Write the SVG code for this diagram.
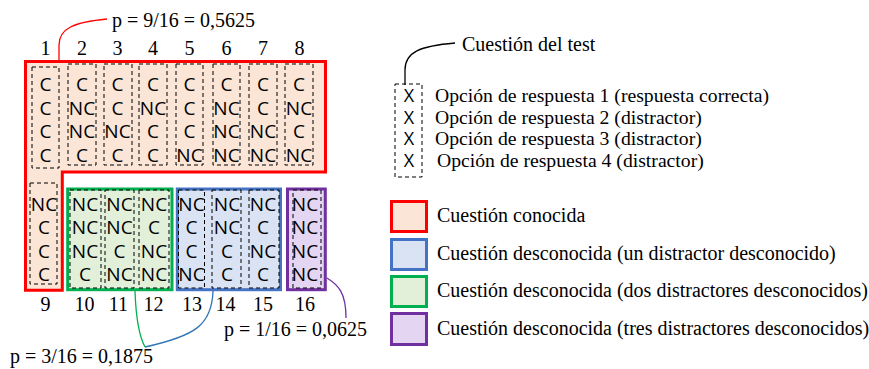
<svg xmlns="http://www.w3.org/2000/svg" width="869" height="369" viewBox="0 0 869 369">
  <style>
    .serif { font-family: "Liberation Serif", "Times New Roman", serif; font-size: 20px; fill: #000; }
    .num { font-family: "Liberation Serif", "Times New Roman", serif; font-size: 20px; fill: #000; text-anchor: middle; }
    .cell { font-family: "Open Sans", "Liberation Sans", sans-serif; font-size: 19px; fill: #000; text-anchor: middle; }
    .dash { fill: none; stroke: #000; stroke-width: 1; stroke-dasharray: 4 3; }
    .known { fill: #FBE5D6; stroke: #FF0000; stroke-width: 3; }
    .one { fill: #DAE3F3; stroke: #4472C4; stroke-width: 3; }
    .two { fill: #E2F0D9; stroke: #00B050; stroke-width: 3; }
    .three { fill: #E4D5F3; stroke: #7030A0; stroke-width: 3; }
    .lead { fill: none; stroke-width: 1.3; }
  </style>

  <!-- Group outlines -->
  <g id="grupo-conocida">
    <path class="known" d="M25.5,61.5 H325.5 V172 H62.3 V290.3 H25.5 Z"/>
  </g>
  <g id="grupo-dos">
    <rect class="two" x="67.7" y="189" width="104.3" height="100.7"/>
  </g>
  <g id="grupo-uno">
    <rect class="one" x="177.3" y="189" width="103.2" height="100.7"/>
  </g>
  <g id="grupo-tres">
    <rect class="three" x="287.5" y="189" width="37.8" height="100.7"/>
  </g>

  <!-- Question columns, first row -->
  <g id="q1">
    <rect class="dash" x="32" y="67" width="27" height="101"/>
    <text class="num" x="45.5" y="55">1</text>
    <text class="cell" x="45.5" y="90.5">C</text><text class="cell" x="45.5" y="114.5">C</text><text class="cell" x="45.5" y="138">C</text><text class="cell" x="45.5" y="161.5">C</text>
  </g>
  <g id="q2">
    <rect class="dash" x="68" y="64" width="28" height="101"/>
    <text class="num" x="82" y="55">2</text>
    <text class="cell" x="82" y="90.5">C</text><text class="cell" x="82" y="114.5">NC</text><text class="cell" x="82" y="138">NC</text><text class="cell" x="82" y="161.5">C</text>
  </g>
  <g id="q3">
    <rect class="dash" x="104" y="64" width="28" height="101"/>
    <text class="num" x="117.5" y="55">3</text>
    <text class="cell" x="117.5" y="90.5">C</text><text class="cell" x="117.5" y="114.5">C</text><text class="cell" x="117.5" y="138">NC</text><text class="cell" x="117.5" y="161.5">C</text>
  </g>
  <g id="q4">
    <rect class="dash" x="139" y="64" width="28" height="101"/>
    <text class="num" x="153" y="55">4</text>
    <text class="cell" x="153" y="90.5">C</text><text class="cell" x="153" y="114.5">NC</text><text class="cell" x="153" y="138">C</text><text class="cell" x="153" y="161.5">C</text>
  </g>
  <g id="q5">
    <rect class="dash" x="176" y="64" width="27" height="101"/>
    <text class="num" x="189.5" y="55">5</text>
    <text class="cell" x="189.5" y="90.5">C</text><text class="cell" x="189.5" y="114.5">C</text><text class="cell" x="189.5" y="138">C</text><text class="cell" x="189.5" y="161.5">NC</text>
  </g>
  <g id="q6">
    <rect class="dash" x="213" y="64" width="27" height="101"/>
    <text class="num" x="226.5" y="55">6</text>
    <text class="cell" x="226.5" y="90.5">C</text><text class="cell" x="226.5" y="114.5">NC</text><text class="cell" x="226.5" y="138">NC</text><text class="cell" x="226.5" y="161.5">NC</text>
  </g>
  <g id="q7">
    <rect class="dash" x="249" y="64" width="28" height="101"/>
    <text class="num" x="263" y="55">7</text>
    <text class="cell" x="263" y="90.5">C</text><text class="cell" x="263" y="114.5">C</text><text class="cell" x="263" y="138">NC</text><text class="cell" x="263" y="161.5">NC</text>
  </g>
  <g id="q8">
    <rect class="dash" x="285" y="64" width="28" height="101"/>
    <text class="num" x="299.5" y="55">8</text>
    <text class="cell" x="299" y="90.5">C</text><text class="cell" x="299" y="114.5">NC</text><text class="cell" x="299" y="138">C</text><text class="cell" x="299" y="161.5">NC</text>
  </g>

  <!-- Question columns, second row -->
  <g id="q9">
    <rect class="dash" x="30" y="183" width="27" height="101"/>
    <text class="num" x="45.5" y="311">9</text>
    <text class="cell" x="44" y="210.5">NC</text><text class="cell" x="44" y="234">C</text><text class="cell" x="44" y="257.5">C</text><text class="cell" x="44" y="281">C</text>
  </g>
  <g id="q10">
    <rect class="dash" x="70" y="190" width="31" height="98"/>
    <text class="num" x="84.5" y="311">10</text>
    <text class="cell" x="85" y="210.5">NC</text><text class="cell" x="85" y="234">NC</text><text class="cell" x="85" y="257.5">NC</text><text class="cell" x="85" y="281">C</text>
  </g>
  <g id="q11">
    <rect class="dash" x="105" y="190" width="29" height="98"/>
    <text class="num" x="118.5" y="311">11</text>
    <text class="cell" x="119.5" y="210.5">NC</text><text class="cell" x="119.5" y="234">NC</text><text class="cell" x="119.5" y="257.5">C</text><text class="cell" x="119.5" y="281">NC</text>
  </g>
  <g id="q12">
    <rect class="dash" x="139" y="190" width="30" height="98"/>
    <text class="num" x="153.5" y="311">12</text>
    <text class="cell" x="154" y="210.5">NC</text><text class="cell" x="154" y="234">C</text><text class="cell" x="154" y="257.5">NC</text><text class="cell" x="154" y="281">NC</text>
  </g>
  <g id="q13">
    <rect class="dash" x="178.5" y="190" width="26" height="98"/>
    <text class="num" x="192" y="311">13</text>
    <text class="cell" x="191.5" y="210.5">NC</text><text class="cell" x="191.5" y="234">C</text><text class="cell" x="191.5" y="257.5">C</text><text class="cell" x="191.5" y="281">NC</text>
  </g>
  <g id="q14">
    <rect class="dash" x="212" y="190" width="29" height="98"/>
    <text class="num" x="225.5" y="311">14</text>
    <text class="cell" x="227" y="210.5">NC</text><text class="cell" x="227" y="234">NC</text><text class="cell" x="227" y="257.5">C</text><text class="cell" x="227" y="281">C</text>
  </g>
  <g id="q15">
    <rect class="dash" x="249" y="190" width="30" height="98"/>
    <text class="num" x="263" y="311">15</text>
    <text class="cell" x="263" y="210.5">NC</text><text class="cell" x="263" y="234">C</text><text class="cell" x="263" y="257.5">NC</text><text class="cell" x="263" y="281">C</text>
  </g>
  <g id="q16">
    <rect class="dash" x="293" y="190" width="28" height="98"/>
    <text class="num" x="305" y="311">16</text>
    <text class="cell" x="305" y="210.5">NC</text><text class="cell" x="305" y="234">NC</text><text class="cell" x="305" y="257.5">NC</text><text class="cell" x="305" y="281">NC</text>
  </g>

  <!-- Probability labels -->
  <g id="p-conocida"><text class="serif" x="112" y="27">p = 9/16 = 0,5625</text></g>
  <g id="p-uno-dos"><text class="serif" x="10" y="363">p = 3/16 = 0,1875</text></g>
  <g id="p-tres"><text class="serif" x="224" y="336">p = 1/16 = 0,0625</text></g>

  <!-- Legend: one test question -->
  <g id="leyenda-cuestion">
    <rect class="dash" x="395" y="84" width="27" height="93"/>
    <text class="serif" x="462" y="50.5">Cuestión del test</text>
    <text class="cell" x="409" y="102" style="font-size:18px">X</text>
    <text class="cell" x="409" y="123.5" style="font-size:18px">X</text>
    <text class="cell" x="409" y="145" style="font-size:18px">X</text>
    <text class="cell" x="409" y="167" style="font-size:18px">X</text>
    <text class="serif" x="435" y="102" style="font-size:19.7px">Opción de respuesta 1 (respuesta correcta)</text>
    <text class="serif" x="435" y="123.5" style="font-size:19.7px">Opción de respuesta 2 (distractor)</text>
    <text class="serif" x="435" y="145" style="font-size:19.7px">Opción de respuesta 3 (distractor)</text>
    <text class="serif" x="437" y="167" style="font-size:19.7px">Opción de respuesta 4 (distractor)</text>
  </g>

  <!-- Legend: colour keys -->
  <g id="leyenda-conocida">
    <rect class="known" x="391.5" y="201.5" width="35" height="30"/>
    <text class="serif" x="437" y="222">Cuestión conocida</text>
  </g>
  <g id="leyenda-uno">
    <rect class="one" x="391.5" y="239.5" width="35" height="30"/>
    <text class="serif" x="437" y="260">Cuestión desconocida (un distractor desconocido)</text>
  </g>
  <g id="leyenda-dos">
    <rect class="two" x="391.5" y="276.5" width="35" height="30"/>
    <text class="serif" x="437" y="297">Cuestión desconocida (dos distractores desconocidos)</text>
  </g>
  <g id="leyenda-tres">
    <rect class="three" x="391.5" y="313.5" width="35" height="31"/>
    <text class="serif" x="437" y="335">Cuestión desconocida (tres distractores desconocidos)</text>
  </g>

  <!-- Leader lines -->
  <g id="conectores">
    <path class="lead" stroke="#FF0000" d="M59,61 V45 C59,28 75,22 107,19"/>
    <path class="lead" stroke="#00B050" d="M135,291 C136,320 139,336 145,347"/>
    <path class="lead" stroke="#2E75B6" d="M213,291 C212,325 195,336 145,347"/>
    <path class="lead" stroke="#7030A0" d="M327,278 C338,285 346,292 346,318"/>
    <path class="lead" stroke="#000000" d="M405,85 V70 C405,52 420,46 455,43"/>
  </g>
</svg>
